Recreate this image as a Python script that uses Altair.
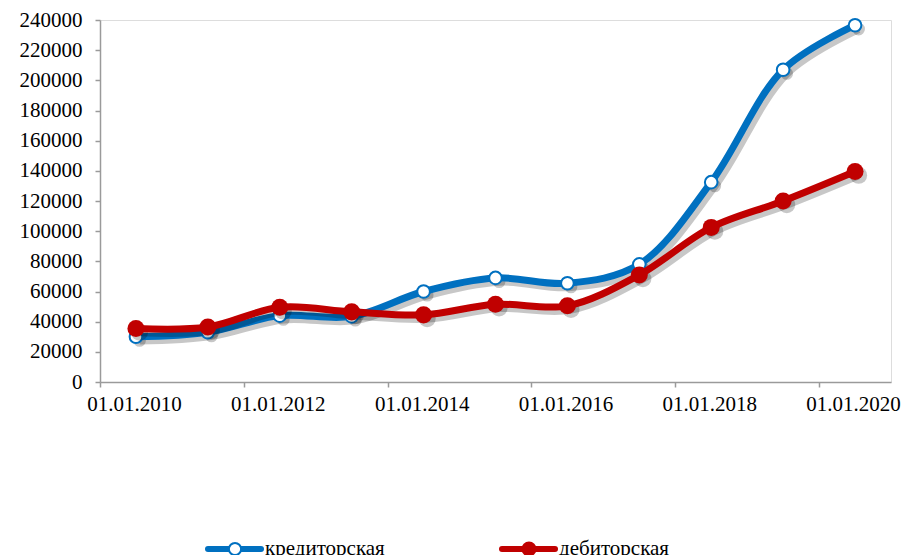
import altair as alt
import pandas as pd

# decimal year of each observation (mid-year points on a date axis)
periods = [2010.5, 2011.5, 2012.5, 2013.5, 2014.5, 2015.5, 2016.5, 2017.5, 2018.5, 2019.5, 2020.5]
kreditorskaya = [30000, 33000, 44000, 43500, 60000, 69000, 65500, 78000, 132500, 207000, 236500]
debitorskaya = [35500, 36500, 49500, 46500, 44500, 51500, 50500, 71000, 102500, 120000, 139500]
series_names = ["кредиторская", "дебиторская"]
tick_years = [2010, 2012, 2014, 2016, 2018, 2020]
y_ticks = list(range(0, 240001, 20000))

BLUE = "#0070C0"
RED = "#C00000"
FONT = "Times New Roman, Liberation Serif, DejaVu Serif, serif"

rows = []
for p, k, d in zip(periods, kreditorskaya, debitorskaya):
    rows.append({"x": p, "value": k, "series": series_names[0]})
    rows.append({"x": p, "value": d, "series": series_names[1]})
df = pd.DataFrame(rows)

xscale = alt.Scale(domain=[2010, 2021], nice=False, zero=False)
yscale = alt.Scale(domain=[0, 240000], nice=False)

xaxis = alt.Axis(values=tick_years, labelExpr="'01.01.' + datum.value",
                 title=None, grid=False, domainColor="#9a9a9a",
                 tickColor="#9a9a9a", tickSize=5, labelFontSize=21,
                 labelFont=FONT, labelColor="#000", labelPadding=6,
                 domainWidth=1.5, tickWidth=1.5, labelFlush=False,
                 labelOverlap=False, labelOffset=34)
yaxis = alt.Axis(values=y_ticks, title=None, grid=False, domainColor="#9a9a9a",
                 tickColor="#9a9a9a", tickSize=5, labelFontSize=21,
                 labelFont=FONT, labelColor="#000", labelPadding=13,
                 domainWidth=1.5, tickWidth=1.5, format="d",
                 labelOverlap=False, labelFlush=False)

def X(field):
    return alt.X(field, type="quantitative", scale=xscale, axis=xaxis, title=None)

def Y(field):
    return alt.Y(field, type="quantitative", scale=yscale, axis=yaxis, title=None)

base = alt.Chart(df)

shadow_src = base.transform_calculate(
    xs="datum.x + 0.05", ys="datum.value - 2500"
)

def line_layer(name, color):
    return base.transform_filter(alt.datum.series == name).mark_line(
        interpolate="catmull-rom", strokeWidth=7, color=color, strokeCap="round"
    ).encode(x=X("x"), y=Y("value"))

def shadow_line(name):
    return shadow_src.transform_filter(alt.datum.series == name).mark_line(
        interpolate="catmull-rom", strokeWidth=8, color="#000", opacity=0.22
    ).encode(x=X("xs"), y=Y("ys"))

def shadow_point(name, size):
    return shadow_src.transform_filter(alt.datum.series == name).mark_point(
        filled=True, color="#000", opacity=0.22, size=size
    ).encode(x=X("xs"), y=Y("ys"))

blue_pts = base.transform_filter(alt.datum.series == series_names[0]).mark_point(
    filled=True, fill="white", stroke=BLUE, strokeWidth=2, size=160, opacity=1
).encode(x=X("x"), y=Y("value"))

red_pts = base.transform_filter(alt.datum.series == series_names[1]).mark_point(
    filled=True, color=RED, size=290, opacity=1
).encode(x=X("x"), y=Y("value"))

# legend (drawn manually below the plot)
leg_y = 549
def legend_items(name, color, x0, hollow):
    one = pd.DataFrame({"s": [name]})
    rule = alt.Chart(one).mark_rule(
        color=color, strokeWidth=6, strokeCap="round"
    ).encode(x=alt.value(x0 - 100), x2=alt.value(x0 - 100 + 53), y=alt.value(leg_y - 20))
    if hollow:
        pt = alt.Chart(one).mark_point(
            filled=True, fill="white", stroke=color, strokeWidth=2, size=150, opacity=1
        ).encode(x=alt.value(x0 - 100 + 27), y=alt.value(leg_y - 20))
    else:
        pt = alt.Chart(one).mark_point(
            filled=True, color=color, size=230, opacity=1
        ).encode(x=alt.value(x0 - 100 + 27), y=alt.value(leg_y - 20))
    txt = alt.Chart(one).mark_text(
        align="left", baseline="alphabetic", fontSize=21, font=FONT, color="#000"
    ).encode(x=alt.value(x0 - 100 + 57), y=alt.value(leg_y - 20 + 6), text="s:N")
    return [rule, pt, txt]

chart = alt.layer(
    shadow_line(series_names[0]), shadow_point(series_names[0], 160),
    line_layer(series_names[0], BLUE), blue_pts,
    shadow_line(series_names[1]), shadow_point(series_names[1], 290),
    line_layer(series_names[1], RED), red_pts,
    *legend_items(series_names[0], BLUE, 208, True),
    *legend_items(series_names[1], RED, 502, False),
).properties(
    width=791, height=362,
    autosize=alt.AutoSizeParams(type="none"),
    padding={"left": 92, "top": 12, "right": 10, "bottom": 173},
).configure_view(strokeWidth=0).configure(background="white")

chart.save("out.html", embed_options={"renderer": "svg", "actions": False})
